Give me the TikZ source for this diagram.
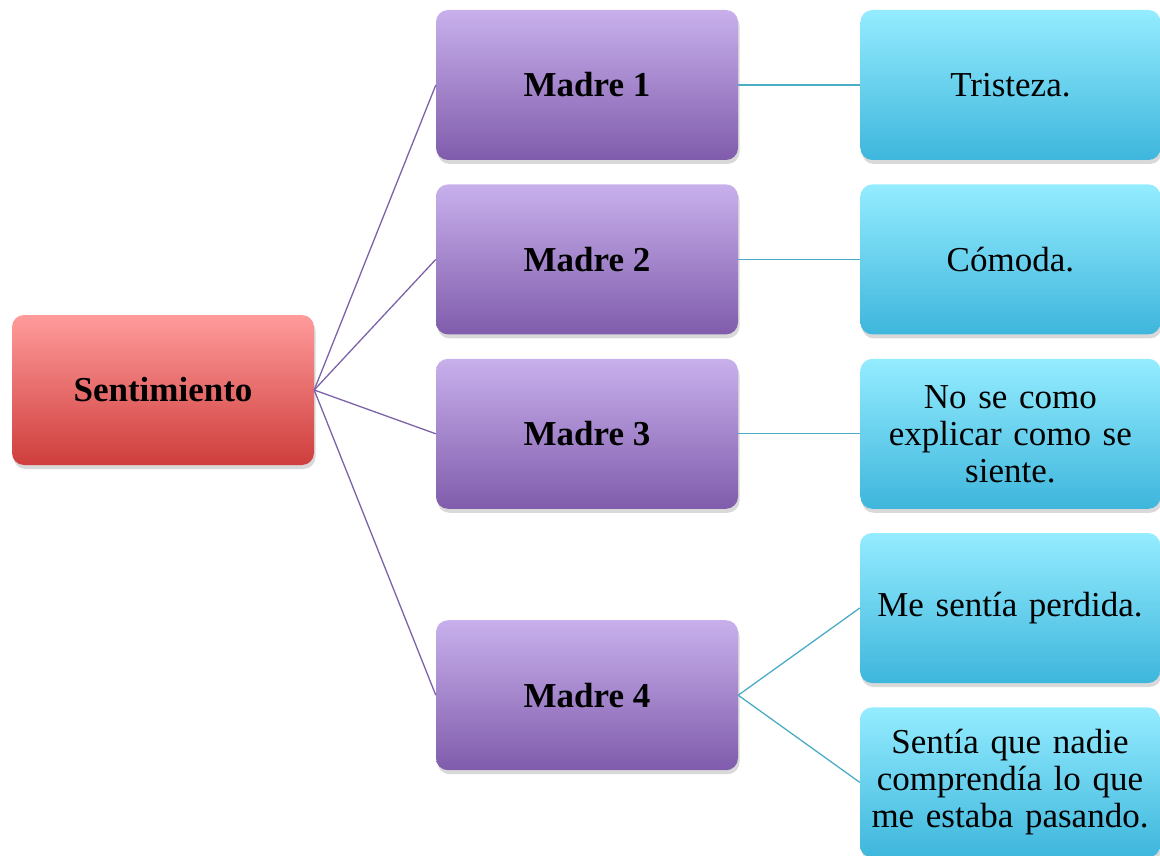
\documentclass[tikz,border=0pt]{standalone}
\usepackage{fontspec}
\setmainfont{Liberation Serif}
\usetikzlibrary{positioning,shadows}
\definecolor{redtop}{RGB}{255,155,155}
\definecolor{redbot}{RGB}{206,62,60}
\definecolor{purtop}{RGB}{200,176,236}
\definecolor{purbot}{RGB}{128,92,172}
\definecolor{cyatop}{RGB}{148,236,255}
\definecolor{cyabot}{RGB}{62,182,220}
\definecolor{purline}{RGB}{124,98,168}
\definecolor{cyaline}{RGB}{75,172,198}

\begin{document}
\begin{tikzpicture}[x=1pt,y=-1pt]
\tikzstyle{box}=[rectangle, rounded corners=12pt, minimum height=150pt, align=center,
  font=\fontsize{35}{37}\selectfont,
  drop shadow={shadow xshift=1.5pt, shadow yshift=-4pt, opacity=0.3}]
\tikzstyle{root}=[box, minimum width=302pt, top color=redtop, bottom color=redbot, font=\fontsize{35}{37}\selectfont\bfseries]
\tikzstyle{madre}=[box, minimum width=302pt, top color=purtop, bottom color=purbot, font=\fontsize{35}{37}\selectfont\bfseries]
\tikzstyle{feel}=[box, minimum width=300pt, text width=286pt, inner sep=7pt, top color=cyatop, bottom color=cyabot]
\tikzstyle{plink}=[draw=purline, line width=1.3pt]
\tikzstyle{clink}=[draw=cyaline, line width=1.3pt]
\useasboundingbox (0,0) rectangle (1160,856);
% 2. Nodes
%%%%%%%%%%
\node[root] (sent) at (163,390) {Sentimiento};

\node[madre] (m1) at (587,85) {Madre 1};
\node[madre] (m2) [below=24pt of m1] {Madre 2};
\node[madre] (m3) [below=24pt of m2] {Madre 3};
\node[madre] (m4) [below=111pt of m3] {Madre 4};

\node[feel] (tris) [right=122pt of m1] {Tristeza.};
\node[feel] (como) [right=122pt of m2] {Cómoda.};
\node[feel] (expl) [right=122pt of m3] {No se como\\explicar como se\\siente.};
\node[feel] (perd) at (1010,608) {Me sentía perdida.};
\node[feel] (nadie) [below=24pt of perd] {Sentía que nadie\\comprendía lo que\\me estaba pasando.};
% 3. Lines
%%%%%%%%%%
\path (sent.east) edge [plink] (m1.west)
      (sent.east) edge [plink] (m2.west)
      (sent.east) edge [plink] (m3.west)
      (sent.east) edge [plink] (m4.west);

\path (m1.east) edge [clink] (tris.west)
      (m2.east) edge [clink] (como.west)
      (m3.east) edge [clink] (expl.west)
      (m4.east) edge [clink] (perd.west)
      (m4.east) edge [clink] (nadie.west);

\end{tikzpicture}
\end{document}
